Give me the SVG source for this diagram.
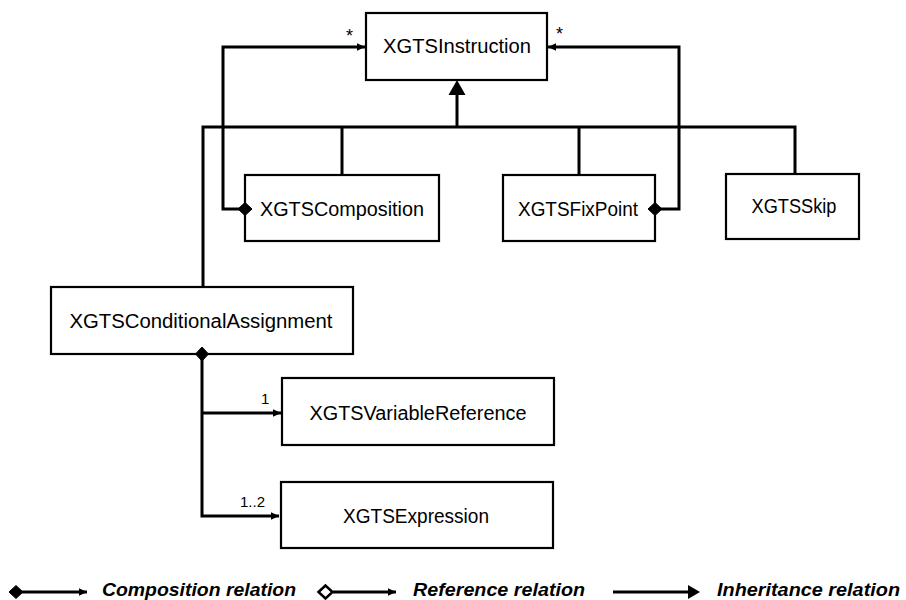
<svg xmlns="http://www.w3.org/2000/svg" width="906" height="600" viewBox="0 0 906 600">
<style>
.box{fill:#fff;stroke:#000;stroke-width:2.2}
.lbl{font-family:"Liberation Sans",Arial,sans-serif;font-size:20px;fill:#000;text-anchor:middle}
.mult{font-family:"Liberation Sans",Arial,sans-serif;font-size:15px;fill:#000}
.star{font-family:"Liberation Sans",Arial,sans-serif;font-size:18px;fill:#000}
.leg{font-family:"Liberation Sans",Arial,sans-serif;font-size:18px;font-weight:bold;font-style:italic;fill:#000}
.ln{fill:none;stroke:#000;stroke-width:3}
.dia{fill:#000;stroke:#000;stroke-width:1}
</style>
<defs>
<marker id="arr" markerUnits="userSpaceOnUse" markerWidth="10" markerHeight="10" viewBox="0 0 10 10" refX="9" refY="5" orient="auto">
<path d="M1,1.2 L9,5 L1,8.8 Z" fill="#000"/>
</marker>
<path id="dmd" d="M-7,0 L0,-6.5 L7,0 L0,6.5 Z"/>
</defs>

<g id="XGTSInstruction">
<rect class="box" x="366" y="13" width="181" height="67"/>
<text class="lbl" x="457" y="53" textLength="148" lengthAdjust="spacingAndGlyphs">XGTSInstruction</text>
</g>
<g id="XGTSComposition">
<rect class="box" x="245" y="175" width="194" height="66"/>
<text class="lbl" x="342" y="216" textLength="164" lengthAdjust="spacingAndGlyphs">XGTSComposition</text>
</g>
<g id="XGTSFixPoint">
<rect class="box" x="503" y="175" width="152" height="66"/>
<text class="lbl" x="578" y="216" textLength="120" lengthAdjust="spacingAndGlyphs">XGTSFixPoint</text>
</g>
<g id="XGTSSkip">
<rect class="box" x="726" y="174" width="133" height="65"/>
<text class="lbl" x="794" y="213" textLength="85" lengthAdjust="spacingAndGlyphs">XGTSSkip</text>
</g>
<g id="XGTSConditionalAssignment">
<rect class="box" x="51" y="287" width="302" height="67"/>
<text class="lbl" x="201" y="328" textLength="263" lengthAdjust="spacingAndGlyphs">XGTSConditionalAssignment</text>
</g>
<g id="XGTSVariableReference">
<rect class="box" x="282" y="378" width="272" height="67"/>
<text class="lbl" x="418" y="420" textLength="217" lengthAdjust="spacingAndGlyphs">XGTSVariableReference</text>
</g>
<g id="XGTSExpression">
<rect class="box" x="281" y="482" width="272" height="66"/>
<text class="lbl" x="416" y="523" textLength="146" lengthAdjust="spacingAndGlyphs">XGTSExpression</text>
</g>

<g id="connectors">
<path class="ln" d="M245,209 H223 V47 H365" marker-end="url(#arr)"/>
<path class="ln" d="M655,209 H679 V47 H548" marker-end="url(#arr)"/>
<path class="ln" d="M203,287 V127 H795 V174"/>
<path class="ln" d="M342,127 V175"/>
<path class="ln" d="M579,127 V175"/>
<path class="ln" d="M457,127 V92"/>
<path d="M448.5,95 L465.5,95 L457,80 Z" fill="#000"/>
<path class="ln" d="M202,354 V516 H279" marker-end="url(#arr)"/>
<path class="ln" d="M202,413 H281" marker-end="url(#arr)"/>
<use href="#dmd" class="dia" x="245" y="209"/>
<use href="#dmd" class="dia" x="655" y="209"/>
<use href="#dmd" class="dia" transform="translate(202,354) rotate(90)"/>
<text class="star" x="346" y="42">*</text>
<text class="star" x="556" y="40">*</text>
<text class="mult" x="261" y="404">1</text>
<text class="mult" x="240" y="507">1..2</text>
</g>

<g id="legend">
<use href="#dmd" class="dia" x="16" y="592"/>
<path class="ln" d="M22,592 H87" marker-end="url(#arr)"/>
<text class="leg" x="102" y="596" textLength="194" lengthAdjust="spacingAndGlyphs">Composition relation</text>
<use href="#dmd" fill="#fff" stroke="#000" stroke-width="2.5" transform="translate(325.5,592)"/>
<path class="ln" d="M333,592 H396" marker-end="url(#arr)"/>
<text class="leg" x="413" y="596" textLength="172" lengthAdjust="spacingAndGlyphs">Reference relation</text>
<path class="ln" d="M613,592 H690"/>
<path d="M688,585 L700,592 L688,599 Z" fill="#000"/>
<text class="leg" x="717" y="596" textLength="183" lengthAdjust="spacingAndGlyphs">Inheritance relation</text>
</g>
</svg>
